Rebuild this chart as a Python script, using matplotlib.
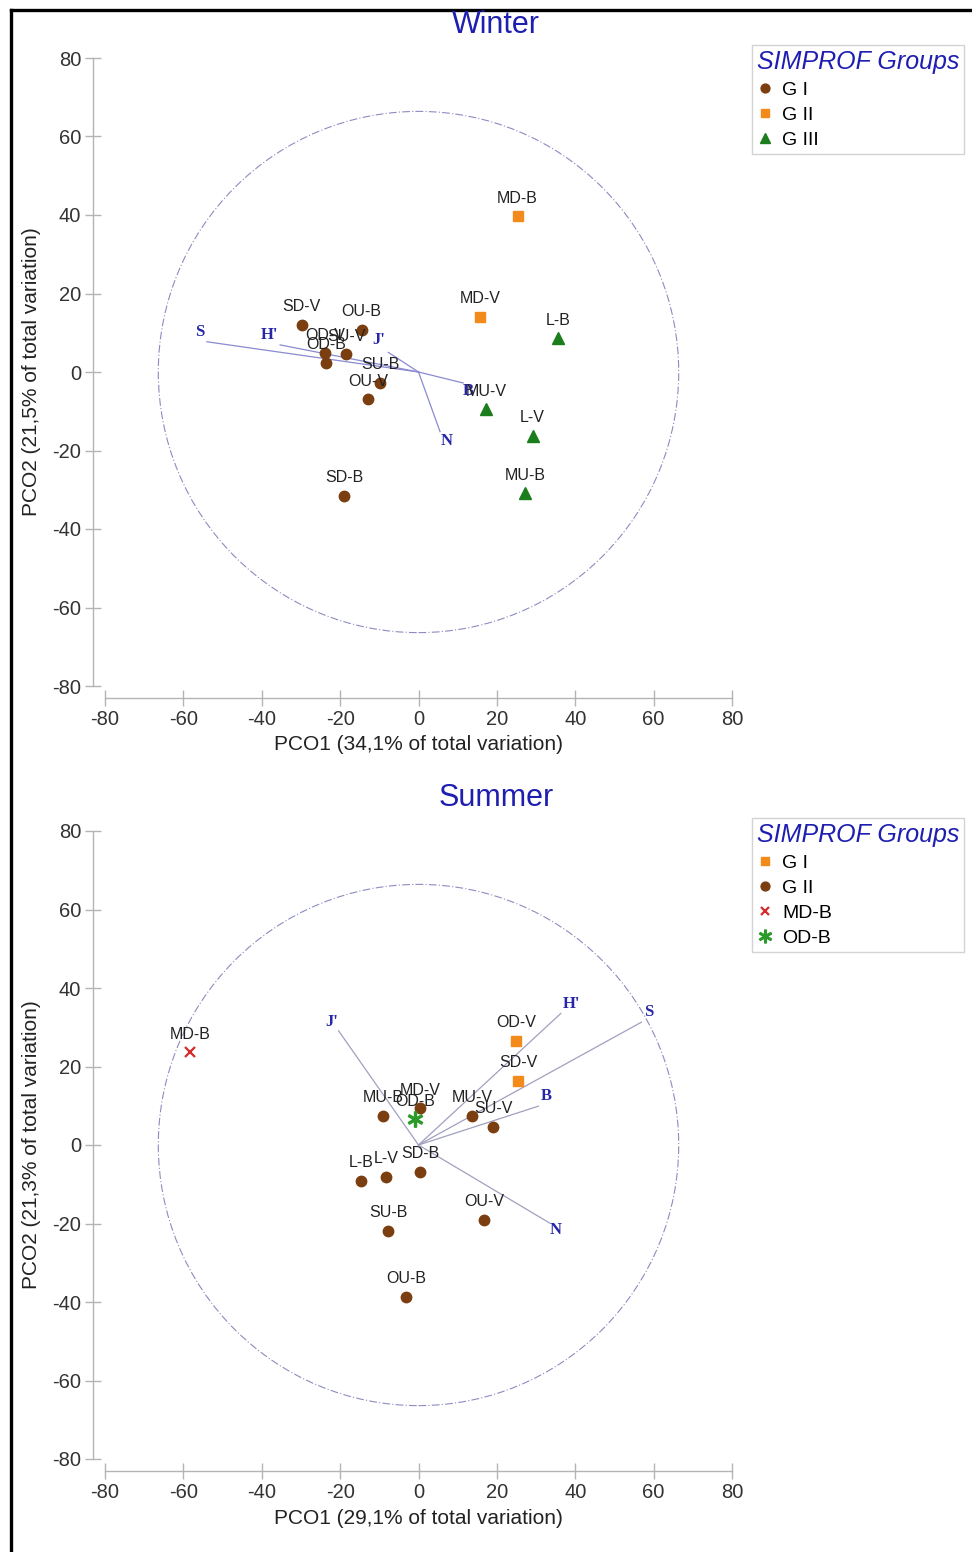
import matplotlib
matplotlib.use("Agg")
import matplotlib.pyplot as plt
from matplotlib.patches import Circle
from matplotlib.lines import Line2D

plt.rcParams['font.family'] = ['Liberation Sans', 'DejaVu Sans']
plt.rcParams['axes.unicode_minus'] = False

# ---- Winter PCO scores ----
winter_labels = ['SD-V', 'OU-B', 'OD-V', 'SU-V', 'OD-B', 'SU-B', 'OU-V', 'SD-B',
                 'MD-B', 'MD-V', 'L-B', 'MU-V', 'L-V', 'MU-B']
winter_x = [-29.8, -14.5, -23.9, -18.5, -23.6, -9.8, -12.8, -19.0,
            25.3, 15.7, 35.7, 17.2, 29.1, 27.2]
winter_y = [12.0, 10.7, 4.8, 4.5, 2.4, -2.7, -7.0, -31.6,
            39.7, 14.1, 8.6, -9.5, -16.3, -30.9]
winter_group = ['G I'] * 8 + ['G II'] * 2 + ['G III'] * 4

winter_vec_names = ['S', "H'", "J'", 'N', 'B']
winter_vec_x = [-54.0, -35.3, -7.7, 5.5, 11.4]
winter_vec_y = [7.7, 6.9, 5.0, -15.2, -2.8]

# ---- Summer PCO scores ----
summer_labels = ['OD-V', 'SD-V', 'MU-B', 'MD-V', 'MU-V', 'SU-V', 'L-B', 'L-V',
                 'SD-B', 'OU-V', 'SU-B', 'OU-B', 'MD-B', 'OD-B']
summer_x = [24.9, 25.5, -9.0, 0.4, 13.6, 19.1, -14.7, -8.3,
            0.4, 16.7, -7.7, -3.2, -58.3, -0.9]
summer_y = [26.5, 16.4, 7.4, 9.4, 7.5, 4.7, -9.1, -8.1,
            -6.8, -19.1, -21.8, -38.6, 23.6, 6.5]
summer_group = ['G I'] * 2 + ['G II'] * 10 + ['MD-B', 'OD-B']

summer_vec_names = ["J'", "H'", 'S', 'B', 'N']
summer_vec_x = [-20.4, 36.3, 56.9, 30.6, 33.5]
summer_vec_y = [29.1, 33.5, 31.3, 9.9, -19.9]

circle_radius = 66.4

brown = '#7a3e10'
orange = '#f28a1c'
green = '#1c7d1c'
blue = '#1e1eb0'

winter_styles = {
    'G I': dict(marker='o', color=brown, ms=7.5),
    'G II': dict(marker='s', color=orange, ms=7),
    'G III': dict(marker='^', color=green, ms=8),
}
summer_styles = {
    'G I': dict(marker='s', color=orange, ms=7),
    'G II': dict(marker='o', color=brown, ms=7.5),
    'MD-B': dict(marker='x', color='#d42a2a', ms=7, mew=1.6),
    'OD-B': dict(marker='$\\ast$', color='#2a9a2a', ms=11),
}

# label offsets (points) for the vector tips
winter_vec_off = {'S': (-5, 7), "H'": (-8, 7), "J'": (-7, 9), 'N': (5, -7), 'B': (4, -6)}
summer_vec_off = {"J'": (-5, 6.5), "H'": (8, 7), 'S': (5, 7.5), 'B': (6, 7), 'N': (4, -5)}

W, H = 972, 1552
fig = plt.figure(figsize=(W / 100, H / 100), dpi=100)

# black frame
fig.add_artist(Line2D([11 / W, 11 / W], [0, 1 - 10 / H], color='black', lw=2.4))
fig.add_artist(Line2D([11 / W, 1], [1 - 10 / H, 1 - 10 / H], color='black', lw=2.4))


def pco_panel(top_px, title, title_y, xs, ys, labels, groups, styles,
              vnames, vx, vy, voff, xlab, ylab, leg_top, vec_color):
    ax = fig.add_axes([105 / W, 1 - (top_px + 628) / H, 627 / W, 628 / H])
    ax.set_xlim(-80, 80)
    ax.set_ylim(-80, 80)

    for s in ['top', 'right']:
        ax.spines[s].set_visible(False)
    for s in ['left', 'bottom']:
        ax.spines[s].set_position(('outward', 8.6))
        ax.spines[s].set_bounds(-80, 80)
        ax.spines[s].set_color('#b4b4b4')
        ax.spines[s].set_linewidth(1.0)
    ax.set_xticks(range(-80, 81, 20))
    ax.set_yticks(range(-80, 81, 20))
    ax.tick_params(direction='inout', length=11, width=1.0, color='#b4b4b4',
                   labelsize=14.5, labelcolor='#333333', pad=3)

    ax.add_patch(Circle((0, 0), circle_radius, fill=False, ec='#8c8cc0',
                        lw=0.8, ls=(0, (7, 2, 1, 2))))

    # vectors from the origin
    for name, x, y in zip(vnames, vx, vy):
        ax.plot([0, x], [0, y], color=vec_color, lw=0.9, zorder=2)
        ax.annotate(name, (x, y), xytext=voff[name], textcoords='offset points',
                    ha='center', va='center', fontsize=12, fontweight='bold',
                    family=['Liberation Serif', 'DejaVu Serif'], color='#2626a6')

    for lab, x, y, g in zip(labels, xs, ys, groups):
        st = styles[g]
        ax.plot(x, y, ls='none', marker=st['marker'], color=st['color'],
                ms=st['ms'], mew=st.get('mew', 1), zorder=4)
        ax.annotate(lab, (x, y), xytext=(0, 13), textcoords='offset points',
                    ha='center', va='center', fontsize=11.5, color='#222222', zorder=5)

    ax.set_xlabel(xlab, fontsize=15, color='#222222')
    ax.xaxis.set_label_coords(0.5, (686 - 745) / 628)
    ax.xaxis.label.set_va('center')
    ax.set_ylabel(ylab, fontsize=15, color='#222222')
    ax.yaxis.set_label_coords((32 - 105) / 627, 0.5)
    ax.yaxis.label.set_va('center')

    fig.text(496 / W, 1 - title_y / H, title, ha='center', va='center',
             fontsize=22, color=blue)

    handles = [Line2D([], [], ls='none', marker=st['marker'], color=st['color'],
                      ms=st['ms'] * 0.85, mew=st.get('mew', 1))
               for st in styles.values()]
    leg = fig.legend(handles, list(styles.keys()), loc='upper left',
                     bbox_to_anchor=(752 / W, 1 - leg_top / H),
                     fontsize=14, title='SIMPROF Groups', frameon=True,
                     fancybox=False, edgecolor='#c8c8c8', borderpad=0.25,
                     handlelength=0.8, handletextpad=0.5, labelspacing=0.38,
                     borderaxespad=0)
    leg.get_title().set_fontsize(18)
    leg.get_title().set_fontstyle('italic')
    leg.get_title().set_color(blue)
    leg._legend_box.align = 'left'
    leg.get_frame().set_linewidth(1.0)
    return ax


pco_panel(58, 'Winter', 25, winter_x, winter_y, winter_labels, winter_group,
          winter_styles, winter_vec_names, winter_vec_x, winter_vec_y, winter_vec_off,
          'PCO1 (34,1% of total variation)', 'PCO2 (21,5% of total variation)', 45,
          '#8a8ad0')

pco_panel(831, 'Summer', 798, summer_x, summer_y, summer_labels, summer_group,
          summer_styles, summer_vec_names, summer_vec_x, summer_vec_y, summer_vec_off,
          'PCO1 (29,1% of total variation)', 'PCO2 (21,3% of total variation)', 818,
          '#a0a0c0')

fig.savefig('out.png', dpi=100)
